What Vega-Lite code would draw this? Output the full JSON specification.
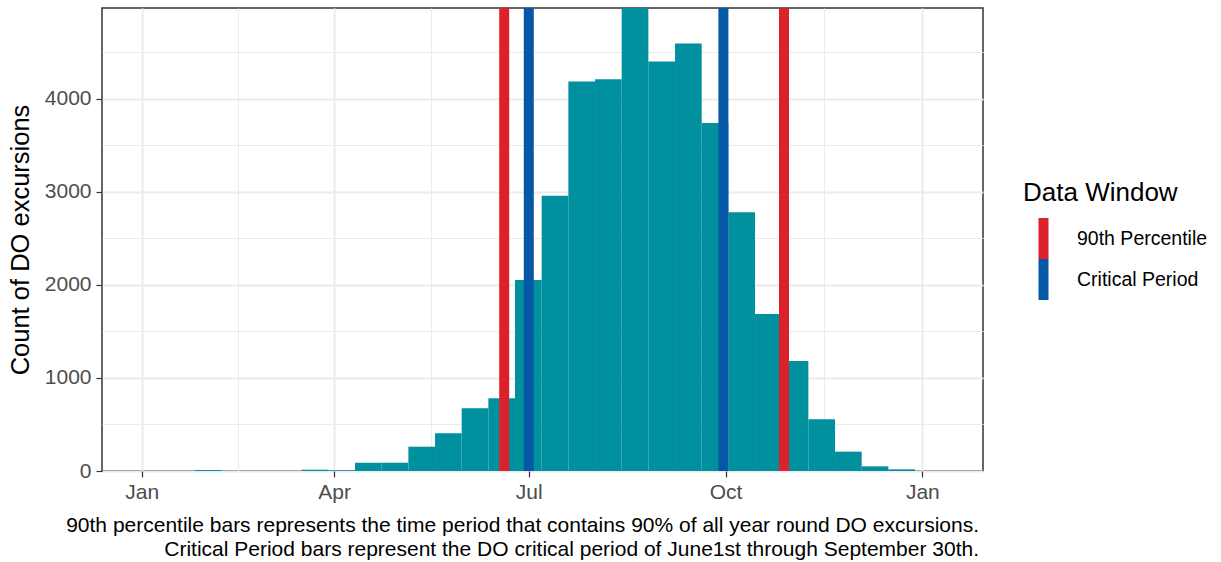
{
  "$schema": "https://vega.github.io/schema/vega-lite/v6.json",
  "autosize": "none",
  "width": 881,
  "height": 463,
  "padding": {"left": 102, "top": 8, "right": 238, "bottom": 91},
  "background": "white",
  "config": {
    "view": {"stroke": "#333333", "strokeWidth": 1.5},
    "font": "Liberation Sans"
  },
  "title": {
    "text": ["90th percentile bars represents the time period that contains 90% of all year round DO excursions.", "Critical Period bars represent the DO critical period of June1st through September 30th."],
    "orient": "bottom",
    "anchor": "end",
    "frame": "group",
    "align": "right",
    "font": "Liberation Sans",
    "fontSize": 21,
    "fontWeight": "normal",
    "color": "black",
    "lineHeight": 24,
    "offset": 13,
    "dx": -4
  },
  "layer": [
    {
      "data": {"values": [
        {"start": "2021-01-01T00:00:00", "end": "2021-01-13T11:15:00", "count": 0},
        {"start": "2021-01-13T11:15:00", "end": "2021-01-25T22:30:00", "count": 0},
        {"start": "2021-01-25T22:30:00", "end": "2021-02-07T09:46:00", "count": 10},
        {"start": "2021-02-07T09:46:00", "end": "2021-02-19T21:01:00", "count": 0},
        {"start": "2021-02-19T21:01:00", "end": "2021-03-04T08:17:00", "count": 0},
        {"start": "2021-03-04T08:17:00", "end": "2021-03-16T19:32:00", "count": 0},
        {"start": "2021-03-16T19:32:00", "end": "2021-03-29T06:48:00", "count": 14},
        {"start": "2021-03-29T06:48:00", "end": "2021-04-10T18:03:00", "count": 7},
        {"start": "2021-04-10T18:03:00", "end": "2021-04-23T05:18:00", "count": 89},
        {"start": "2021-04-23T05:18:00", "end": "2021-05-05T16:34:00", "count": 89},
        {"start": "2021-05-05T16:34:00", "end": "2021-05-18T03:49:00", "count": 261},
        {"start": "2021-05-18T03:49:00", "end": "2021-05-30T15:04:00", "count": 405},
        {"start": "2021-05-30T15:04:00", "end": "2021-06-12T02:20:00", "count": 674},
        {"start": "2021-06-12T02:20:00", "end": "2021-06-24T13:35:00", "count": 781},
        {"start": "2021-06-24T13:35:00", "end": "2021-07-07T00:50:00", "count": 2054},
        {"start": "2021-07-07T00:50:00", "end": "2021-07-19T12:06:00", "count": 2960},
        {"start": "2021-07-19T12:06:00", "end": "2021-07-31T23:21:00", "count": 4186},
        {"start": "2021-07-31T23:21:00", "end": "2021-08-13T10:36:00", "count": 4212},
        {"start": "2021-08-13T10:36:00", "end": "2021-08-25T21:52:00", "count": 4977},
        {"start": "2021-08-25T21:52:00", "end": "2021-09-07T09:07:00", "count": 4401},
        {"start": "2021-09-07T09:07:00", "end": "2021-09-19T20:23:00", "count": 4595},
        {"start": "2021-09-19T20:23:00", "end": "2021-10-02T07:38:00", "count": 3742},
        {"start": "2021-10-02T07:38:00", "end": "2021-10-14T18:53:00", "count": 2782},
        {"start": "2021-10-14T18:53:00", "end": "2021-10-27T06:09:00", "count": 1688},
        {"start": "2021-10-27T06:09:00", "end": "2021-11-08T17:24:00", "count": 1183},
        {"start": "2021-11-08T17:24:00", "end": "2021-11-21T04:39:00", "count": 556},
        {"start": "2021-11-21T04:39:00", "end": "2021-12-03T15:55:00", "count": 208},
        {"start": "2021-12-03T15:55:00", "end": "2021-12-16T03:10:00", "count": 50},
        {"start": "2021-12-16T03:10:00", "end": "2021-12-28T14:25:00", "count": 18}
      ]},
      "mark": {"type": "bar", "color": "#00909E", "strokeWidth": 0},
      "encoding": {
        "x": {
          "field": "start", "type": "temporal",
          "scale": {"domain": [{"year": 2020, "month": 12, "date": 13, "hours": 10, "minutes": 30}, {"year": 2022, "month": 1, "date": 29, "hours": 9, "minutes": 10}]},
          "axis": {
            "title": null,
            "domain": false,
            "values": [
              {"year": 2021, "month": 1, "date": 1},
              {"year": 2021, "month": 2, "date": 15},
              {"year": 2021, "month": 4, "date": 1},
              {"year": 2021, "month": 5, "date": 16, "hours": 12},
              {"year": 2021, "month": 7, "date": 1},
              {"year": 2021, "month": 8, "date": 16},
              {"year": 2021, "month": 10, "date": 1},
              {"year": 2021, "month": 11, "date": 16},
              {"year": 2022, "month": 1, "date": 1}
            ],
            "labelExpr": "date(datum.value) == 1 ? timeFormat(datum.value, '%b') : ''",
            "labelFont": "Liberation Sans",
            "labelFontSize": 21,
            "labelColor": "#4D4D4D",
            "labelPadding": 4,
            "labelFlush": false,
            "labelOverlap": false,
            "tickSize": 6,
            "tickWidth": 1.2,
            "tickColor": "#333333",
            "tickOpacity": {"condition": {"test": "date(datum.value) != 1", "value": 0}, "value": 1},
            "gridColor": "#EBEBEB",
            "gridWidth": {"condition": {"test": "date(datum.value) != 1", "value": 1}, "value": 2}
          }
        },
        "x2": {"field": "end"},
        "y": {
          "field": "count", "type": "quantitative",
          "scale": {"domain": [0, 4977], "nice": false, "zero": true},
          "axis": {
            "title": "Count of DO excursions",
            "titleFont": "Liberation Sans",
            "titleFontSize": 25.5,
            "titleFontWeight": "normal",
            "titleColor": "black",
            "titlePadding": 11,
            "domain": false,
            "values": [0, 500, 1000, 1500, 2000, 2500, 3000, 3500, 4000, 4500],
            "format": "d",
            "labelExpr": "datum.value % 1000 == 0 ? datum.label : ''",
            "labelFont": "Liberation Sans",
            "labelFontSize": 21,
            "labelColor": "#4D4D4D",
            "labelPadding": 5,
            "labelOverlap": false,
            "labelFlush": false,
            "tickSize": 6,
            "tickWidth": 1.2,
            "tickColor": "#333333",
            "tickOpacity": {"condition": {"test": "datum.value % 1000 != 0", "value": 0}, "value": 1},
            "gridColor": "#EBEBEB",
            "gridWidth": {"condition": {"test": "datum.value % 1000 != 0", "value": 1}, "value": 2}
          }
        },
        "y2": {"datum": 0}
      }
    },
    {
      "data": {"values": [
        {"date": "2021-06-19T12:00:00", "window": "90th Percentile"},
        {"date": "2021-07-01T00:00:00", "window": "Critical Period"},
        {"date": "2021-09-30T00:00:00", "window": "Critical Period"},
        {"date": "2021-10-28T08:00:00", "window": "90th Percentile"}
      ]},
      "mark": {"type": "rule", "strokeWidth": 10},
      "encoding": {
        "x": {"field": "date", "type": "temporal"},
        "color": {
          "field": "window", "type": "nominal",
          "scale": {"domain": ["90th Percentile", "Critical Period"], "range": ["#DB2129", "#0558A6"]},
          "legend": {
            "title": "Data Window",
            "orient": "none",
            "legendX": 921,
            "legendY": 172,
            "padding": 0,
            "titleFont": "Liberation Sans",
            "titleFontSize": 26,
            "titleFontWeight": "normal",
            "titleColor": "black",
            "titlePadding": 12,
            "labelFont": "Liberation Sans",
            "labelFontSize": 19.5,
            "labelColor": "black",
            "labelOffset": 13,
            "symbolType": "stroke",
            "symbolSize": 961,
            "symbolStrokeWidth": 10,
            "clipHeight": 41,
            "rowPadding": 0,
            "encode": {
              "symbols": {"update": {"angle": {"value": 90}, "strokeCap": {"value": "square"}}}
            }
          }
        }
      }
    }
  ]
}
